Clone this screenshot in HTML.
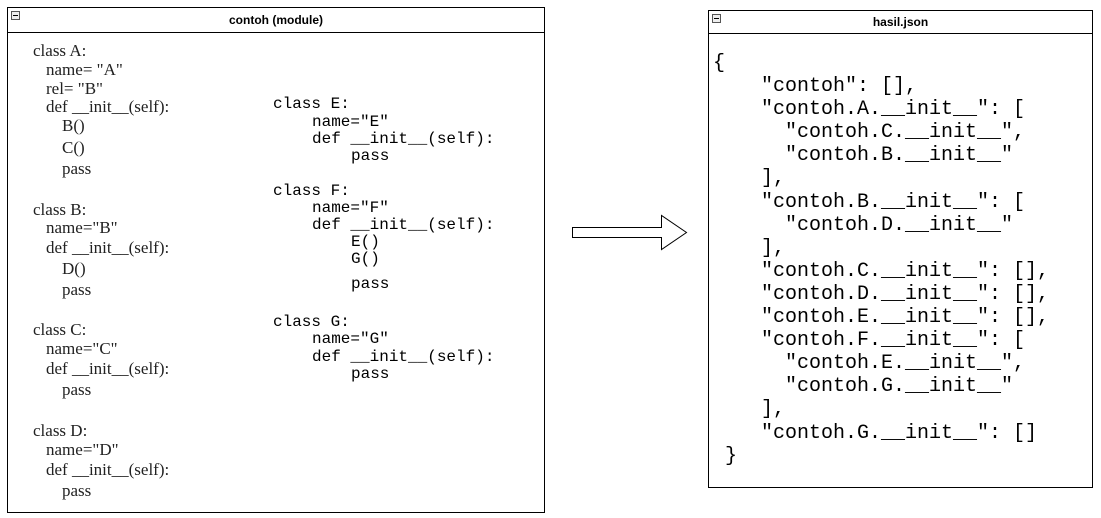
<!DOCTYPE html>
<html><head><meta charset="utf-8"><style>
body{margin:0;width:1101px;height:518px;background:#fff;position:relative;overflow:hidden}
.box{position:absolute;border:1px solid #000;background:#fff}
.hdr{position:absolute;left:0;right:0;top:0;border-bottom:1px solid #000;font:bold 12px "Liberation Sans",sans-serif;text-align:center}
.ic{position:absolute;left:3px;top:3px;width:7px;height:7px;border:1px solid #555;background:#eee}
.ic:after{content:"";position:absolute;left:1px;right:1px;top:3px;height:1px;background:#000}
.t{position:absolute;white-space:pre;line-height:1}
.s{font:17px "Liberation Serif",serif;color:#222}
.m{font:16px "Liberation Mono",monospace;color:#000}
.j{font:20px "Liberation Mono",monospace;color:#000}
</style></head><body>
<div class="box" style="left:7px;top:7px;width:536px;height:504px">
 <div class="hdr" style="height:24px;line-height:24px"><div class="ic"></div>contoh (module)</div>
</div>
<div class="box" style="left:708px;top:10px;width:383px;height:476px">
 <div class="hdr" style="height:22px;line-height:22px"><div class="ic"></div>hasil.json</div>
</div>
<svg style="position:absolute;left:0;top:0" width="1101" height="518">
 <polygon points="572.5,227.5 661.5,227.5 661.5,215.5 686.5,232.5 661.5,249.5 661.5,237.5 572.5,237.5" fill="#fff" stroke="#000" stroke-width="1"/>
</svg>
<div class="t s" style="left:33px;top:41px">class A:</div>
<div class="t s" style="left:46px;top:60px">name= "A"</div>
<div class="t s" style="left:46px;top:79px">rel= "B"</div>
<div class="t s" style="left:46px;top:97px">def __init__(self):</div>
<div class="t s" style="left:62px;top:116px">B()</div>
<div class="t s" style="left:62px;top:138px">C()</div>
<div class="t s" style="left:62px;top:159px">pass</div>
<div class="t s" style="left:33px;top:200px">class B:</div>
<div class="t s" style="left:46px;top:218px">name="B"</div>
<div class="t s" style="left:46px;top:238px">def __init__(self):</div>
<div class="t s" style="left:62px;top:259px">D()</div>
<div class="t s" style="left:62px;top:280px">pass</div>
<div class="t s" style="left:33px;top:320px">class C:</div>
<div class="t s" style="left:46px;top:339px">name="C"</div>
<div class="t s" style="left:46px;top:359px">def __init__(self):</div>
<div class="t s" style="left:62px;top:380px">pass</div>
<div class="t s" style="left:33px;top:421px">class D:</div>
<div class="t s" style="left:46px;top:440px">name="D"</div>
<div class="t s" style="left:46px;top:460px">def __init__(self):</div>
<div class="t s" style="left:62px;top:481px">pass</div>

<div class="t m" style="left:273px;top:95px">class E:</div>
<div class="t m" style="left:312px;top:113px">name="E"</div>
<div class="t m" style="left:312px;top:130px">def __init__(self):</div>
<div class="t m" style="left:351px;top:147px">pass</div>
<div class="t m" style="left:273px;top:182px">class F:</div>
<div class="t m" style="left:312px;top:199px">name="F"</div>
<div class="t m" style="left:312px;top:216px">def __init__(self):</div>
<div class="t m" style="left:351px;top:233px">E()</div>
<div class="t m" style="left:351px;top:250px">G()</div>
<div class="t m" style="left:351px;top:275px">pass</div>
<div class="t m" style="left:273px;top:313px">class G:</div>
<div class="t m" style="left:312px;top:330px">name="G"</div>
<div class="t m" style="left:312px;top:348px">def __init__(self):</div>
<div class="t m" style="left:351px;top:365px">pass</div>

<div class="t j" style="left:713px;top:52px;line-height:23.1px">{
    "contoh": [],
    "contoh.A.__init__": [
      "contoh.C.__init__",
      "contoh.B.__init__"
    ],
    "contoh.B.__init__": [
      "contoh.D.__init__"
    ],
    "contoh.C.__init__": [],
    "contoh.D.__init__": [],
    "contoh.E.__init__": [],
    "contoh.F.__init__": [
      "contoh.E.__init__",
      "contoh.G.__init__"
    ],
    "contoh.G.__init__": []
 }</div>
</body></html>
